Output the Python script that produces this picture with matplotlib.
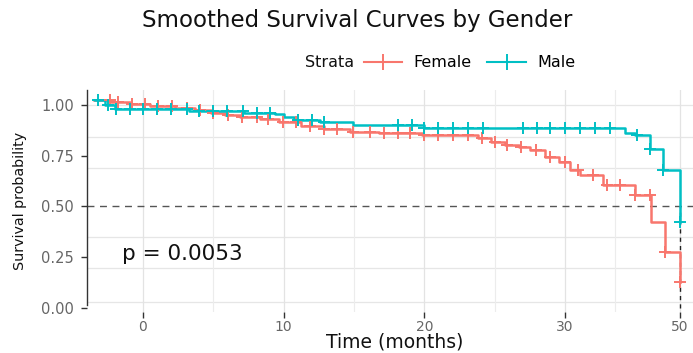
import numpy as np
import matplotlib
matplotlib.use("Agg")
import matplotlib.pyplot as plt
from matplotlib.lines import Line2D

# Smoothed Kaplan-Meier style survival estimates (time in months)
female_time = [-3.5, -2.3, -0.9, 0.5, 2.3, 3.7, 4.8, 5.8, 6.9, 8.3, 9.7, 11.2, 12.9,
               14.7, 16.8, 19.8, 23.8, 24.7, 25.7, 26.7, 27.5, 28.6, 29.6, 30.9,
               32.6, 36.6, 42.2, 45.0, 47.4, 50.0]
female_surv = [1.025, 1.015, 1.005, 0.995, 0.985, 0.975, 0.962, 0.952, 0.94, 0.93,
               0.915, 0.895, 0.88, 0.868, 0.86, 0.852, 0.836, 0.82, 0.803, 0.795,
               0.778, 0.745, 0.72, 0.68, 0.655, 0.606, 0.557, 0.425, 0.277, 0.13]
female_censor = [-2.35, -1.8, -0.8, 0.14, 1.07, 2.06, 3.13, 4.05, 4.98, 6.04, 7.04,
                 8.1, 8.9, 9.95, 10.9, 11.9, 12.9, 13.8, 14.9, 16.1, 17.1, 18.1,
                 19.0, 20.0, 21.0, 22.0, 23.1, 24.1, 25.0, 25.9, 26.9, 27.9, 28.9,
                 30.0, 32.3, 34.9, 37.3, 39.6, 42.2, 44.8, 47.4, 50.0]

male_time = [-3.4, -2.7, -2.0, 3.3, 7.2, 9.4, 10.0, 10.7, 12.6, 14.9, 20.0, 40.4,
             42.2, 44.8, 47.0, 50.0]
male_surv = [1.025, 1.0, 0.98, 0.972, 0.962, 0.955, 0.94, 0.926, 0.918, 0.90,
             0.888, 0.86, 0.852, 0.785, 0.68, 0.425]
male_censor = [-3.2, -2.5, -1.9, -0.9, 0.0, 1.0, 2.0, 3.1, 4.0, 5.0, 6.0, 7.1, 8.1,
               9.0, 11.0, 12.0, 12.9, 18.1, 19.1, 20.0, 21.0, 22.0, 23.1, 24.2,
               27.0, 28.0, 28.9, 30.0, 32.6, 35.2, 37.8, 42.5, 44.8, 47.0, 50.0]

strata = ["Female", "Male"]
colors = {"Female": "#F8766D", "Male": "#00BFC4"}
x_ticks = [0, 10, 20, 30, 50]
y_ticks = [0.0, 0.25, 0.50, 0.75, 1.00]
p_value = 0.0053
median_time = 50.0

# time axis is compressed beyond 30 months
K = 0.4085


def fwd(x):
    x = np.asarray(x, dtype=float)
    return np.where(x <= 30, x, 30 + (x - 30) * K)


def inv(x):
    x = np.asarray(x, dtype=float)
    return np.where(x <= 30, x, 30 + (x - 30) / K)


def surv_at(times, surv, t):
    idx = np.searchsorted(times, t, side="right") - 1
    idx = np.clip(idx, 0, len(surv) - 1)
    return np.asarray(surv)[idx]


fig = plt.figure(figsize=(6.93, 3.53), dpi=100)
ax = fig.add_axes([0.1251, 0.1161, 0.8749, 0.6289])
ax.set_xscale("function", functions=(fwd, inv))
ax.set_xlim(-4.0, 52.25)
ax.set_ylim(-0.02, 1.074)

# grid
grid_c = "#E6E6E6"
for gy in [0.031, 0.196, 0.351, 0.688, 0.844, 1.0]:
    ax.axhline(gy, color=grid_c, lw=0.9, zorder=0)
for gx in x_ticks:
    ax.axvline(gx, color="#E3E3E3", lw=0.9, zorder=0)
for gx in [5, 15, 25, 38.7]:
    ax.axvline(gx, color="#ECECEC", lw=0.8, zorder=0)

# reference lines at median survival
ax.axhline(0.5, color="#555555", lw=1.0, ls=(0, (5, 4)), zorder=1)
ax.plot([median_time, median_time], [0, 0.5], color="#222222", lw=1.0,
        ls=(0, (3, 3)), zorder=1)

series = {
    "Female": (female_time, female_surv, female_censor),
    "Male": (male_time, male_surv, male_censor),
}
for name in strata:
    t, s, c = series[name]
    ax.step(t, s, where="post", color=colors[name], lw=1.8, zorder=3)
    ax.plot(c, surv_at(t, s, c), ls="none", marker="+", ms=9, mew=1.4,
            color=colors[name], zorder=4)

ax.text(-1.5, 0.265, f"p = {p_value:.4f}", fontsize=15.5, color="#111111",
        ha="left", va="center")

# axes styling
for side in ["top", "right", "bottom"]:
    ax.spines[side].set_visible(False)
ax.spines["left"].set_color("#333333")
ax.spines["left"].set_linewidth(1.0)
ax.spines["left"].set_bounds(0.015, 1.074)
ax.set_xticks(x_ticks)
ax.set_xticklabels([str(v) for v in x_ticks])
ax.set_xticks([], minor=True)
ax.set_yticks(y_ticks)
ax.set_yticklabels([f"{v:.2f}" for v in y_ticks])
ax.tick_params(axis="both", colors="#333333", labelcolor="#666666",
               labelsize=10.5, length=4, width=1.0)
ax.tick_params(axis="y", pad=5)
ax.tick_params(axis="x", pad=1.5, labelsize=10)

ax.set_ylabel("Survival probability", fontsize=10.3, color="#111111", labelpad=10)
fig.text(0.57, 0.003, "Time (months)", fontsize=13.5, color="#111111",
         ha="center", va="bottom")

fig.text(0.515, 0.942, "Smoothed Survival Curves by Gender", fontsize=16.5,
         ha="center", va="center", color="#111111")

fig.text(0.44, 0.822, "Strata", fontsize=11.5, ha="left", va="center",
         color="#111111")
handles = [Line2D([], [], color=colors[n], lw=1.5, marker="+", ms=11, mew=1.4)
           for n in strata]
fig.legend(handles, strata, ncol=2, frameon=False, fontsize=11.5,
           loc="center left", bbox_to_anchor=(0.525, 0.822),
           handlelength=2.4, handletextpad=0.7, columnspacing=1.0,
           borderaxespad=0, borderpad=0)

fig.savefig("out.png", dpi=100)
